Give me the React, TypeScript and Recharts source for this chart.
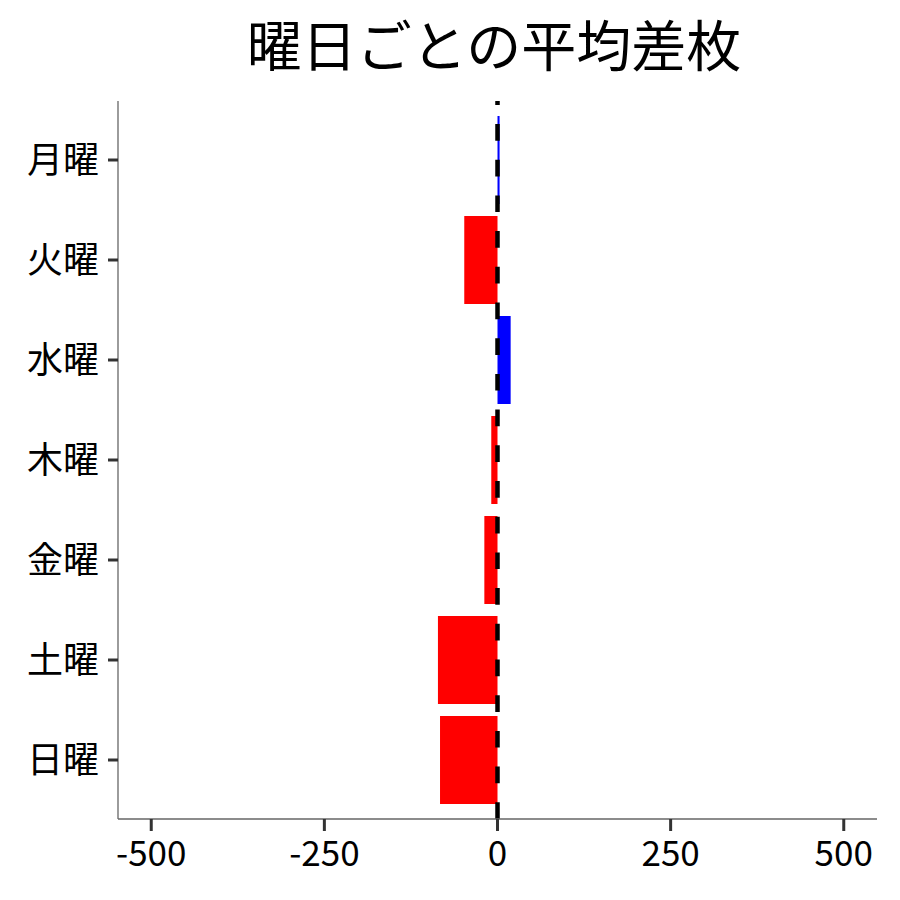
import React from 'react';
import { BarChart, Bar, XAxis, YAxis, ReferenceLine, Cell } from 'recharts';

const days = ['月曜', '火曜', '水曜', '木曜', '金曜', '土曜', '日曜'];
const avgDiff = [3, -48, 19, -9, -19, -86, -83];
const xTicks = [-500, -250, 0, 250, 500];

const data = days.map((day, i) => ({ day, value: avgDiff[i] }));

const font = '"Noto Sans CJK JP", "Noto Sans", sans-serif';

const App: React.FC = () => {
  return (
    <div style={{ position: 'absolute', left: 0, top: 0, width: 900, height: 900, background: '#fff' }}>
      <svg width={900} height={100} style={{ position: 'absolute', left: 0, top: 0 }}>
        <text x={494} y={66} textAnchor="middle" fontSize={55} fontFamily={font} fill="#000">
          曜日ごとの平均差枚
        </text>
      </svg>
      <div style={{ position: 'absolute', left: 0, top: 0 }}>
        <BarChart
          width={900}
          height={900}
          data={data}
          layout="vertical"
          margin={{ top: 101, right: 23, bottom: 0, left: 0 }}
          barCategoryGap="6%"
        >
          <XAxis
            type="number"
            domain={[-548, 548]}
            ticks={xTicks}
            allowDataOverflow
            height={81}
            stroke="#666"
            strokeWidth={1.3}
            tickSize={12}
            tickMargin={10}
            tickLine={{ stroke: '#333', strokeWidth: 3 }}
            tick={{ fill: '#000', fontSize: 35, fontFamily: font }}
          />
          <YAxis
            type="category"
            dataKey="day"
            width={118}
            padding={{ top: 9, bottom: 9 }}
            stroke="#666"
            strokeWidth={1.3}
            tickSize={10}
            tickMargin={9}
            tickLine={{ stroke: '#333', strokeWidth: 3 }}
            tick={{ fill: '#000', fontSize: 36, fontFamily: font }}
          />
          <Bar dataKey="value" isAnimationActive={false}>
            {data.map((d, i) => (
              <Cell key={i} fill={d.value >= 0 ? '#0000FF' : '#FF0000'} />
            ))}
          </Bar>
          <ReferenceLine x={0} stroke="#000" strokeWidth={4.5} strokeDasharray="16.7 19" />
        </BarChart>
      </div>
    </div>
  );
};

export default App;
